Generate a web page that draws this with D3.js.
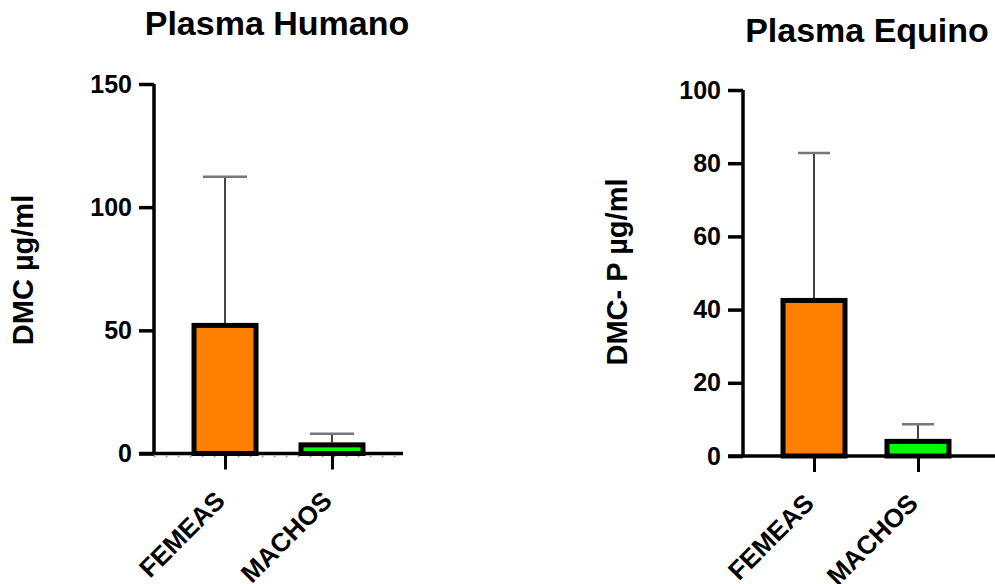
<!DOCTYPE html>
<html>
<head>
<meta charset="utf-8">
<script src="https://cdn.jsdelivr.net/npm/d3@7"></script>
<style>
  body { margin: 0; background: #fff; }
  svg { display: block; font-family: "Liberation Sans", Arial, sans-serif; font-weight: bold; }
</style>
</head>
<body>
<div id="chart"></div>
<script>
// --- data ---
const categories = ['FEMEAS', 'MACHOS'];
const barColors = ['#ff8000', '#00ff00'];

const humanoMeans = [52, 3.5];
const humanoUpper = [112.3, 8];   // top of error bar
const humanoTicks = [0, 50, 100, 150];

const equinoMeans = [42.5, 4.0];
const equinoUpper = [82.8, 8.7];
const equinoTicks = [0, 20, 40, 60, 80, 100];

const W = 995, H = 584;

const svg = d3.select('#chart').append('svg')
  .attr('width', W)
  .attr('height', H);

// panel layout
const panels = [
  {
    title: 'Plasma Humano', titleX: 277, titleY: 35,
    yLabel: 'DMC µg/ml', yLabelX: 33, yLabelY: 270,
    means: humanoMeans, upper: humanoUpper, ticks: humanoTicks, yMax: 150,
    axisX: 154, axisEnd: 403, yTop: 84, yBottom: 453.5,
    padding: 0.664, capW: 44, dotted: true
  },
  {
    title: 'Plasma Equino', titleX: 867, titleY: 42,
    yLabel: 'DMC- P µg/ml', yLabelX: 627, yLabelY: 272,
    means: equinoMeans, upper: equinoUpper, ticks: equinoTicks, yMax: 100,
    axisX: 743, axisEnd: 989, yTop: 90, yBottom: 456,
    padding: 0.683, capW: 32, dotted: false
  }
];

const barW = 62;

panels.forEach(p => {
  const g = svg.append('g');

  const x = d3.scalePoint()
    .domain(categories)
    .range([p.axisX, p.axisEnd])
    .padding(p.padding);

  const y = d3.scaleLinear()
    .domain([0, p.yMax])
    .range([p.yBottom, p.yTop]);

  // title
  g.append('text')
    .attr('x', p.titleX)
    .attr('y', p.titleY)
    .attr('text-anchor', 'middle')
    .style('font-size', '34px')
    .text(p.title);

  // y label
  g.append('text')
    .attr('transform', `translate(${p.yLabelX},${p.yLabelY}) rotate(-90)`)
    .attr('text-anchor', 'middle')
    .style('font-size', '29px')
    .text(p.yLabel);

  // faint minor marks under the baseline
  if (p.dotted) {
    g.append('line')
      .attr('x1', p.axisX).attr('x2', p.axisEnd)
      .attr('y1', p.yBottom + 3).attr('y2', p.yBottom + 3)
      .attr('stroke', '#999')
      .attr('stroke-width', 1.5)
      .attr('stroke-dasharray', '1.5,10.5');
  }

  // bars
  const idx = d3.range(categories.length);
  g.selectAll('.bar')
    .data(idx)
    .join('rect')
    .attr('class', 'bar')
    .attr('x', i => x(categories[i]) - barW / 2)
    .attr('width', barW)
    .attr('y', i => y(p.means[i]))
    .attr('height', i => y(0) - y(p.means[i]))
    .attr('fill', i => barColors[i])
    .attr('stroke', '#000')
    .attr('stroke-width', 5);

  // error bars (upper only)
  const err = g.selectAll('.err')
    .data(idx)
    .join('g')
    .attr('class', 'err');
  err.append('line')
    .attr('x1', i => x(categories[i])).attr('x2', i => x(categories[i]))
    .attr('y1', i => y(p.means[i]) - 2.5)
    .attr('y2', i => y(p.upper[i]))
    .attr('stroke', '#222')
    .attr('stroke-width', 1.7);
  err.append('line')
    .attr('x1', i => x(categories[i]) - p.capW / 2)
    .attr('x2', i => x(categories[i]) + p.capW / 2)
    .attr('y1', i => y(p.upper[i])).attr('y2', i => y(p.upper[i]))
    .attr('stroke', '#777')
    .attr('stroke-width', 2.5);

  // y axis
  const yAxis = g.append('g')
    .attr('transform', `translate(${p.axisX},0)`)
    .call(d3.axisLeft(y).tickValues(p.ticks).tickSize(15).tickSizeOuter(0).tickPadding(7));
  yAxis.select('.domain').attr('stroke', '#000').attr('stroke-width', 3.5)
    .attr('d', `M0,${p.yTop}V${p.yBottom}`);
  yAxis.selectAll('.tick line').attr('stroke', '#000').attr('stroke-width', 3.5);
  yAxis.selectAll('.tick text')
    .attr('fill', '#000')
    .attr('font-family', null)
    .style('font-size', '25px');

  // x axis
  const xAxis = g.append('g')
    .attr('transform', `translate(0,${p.yBottom})`)
    .call(d3.axisBottom(x).tickSize(16).tickSizeOuter(0));
  xAxis.select('.domain').attr('stroke', '#000').attr('stroke-width', 3.5)
    .attr('d', `M${p.axisX - 15},0H${p.axisEnd === 989 ? W : p.axisEnd}`);
  xAxis.selectAll('.tick line').attr('stroke', '#000').attr('stroke-width', 3);
  xAxis.selectAll('.tick text')
    .attr('fill', '#000')
    .attr('font-family', null)
    .attr('x', 0).attr('y', 0).attr('dy', null)
    .attr('transform', 'translate(1,49) rotate(-45)')
    .attr('text-anchor', 'end')
    .style('font-size', '26px');
});
</script>
</body>
</html>
